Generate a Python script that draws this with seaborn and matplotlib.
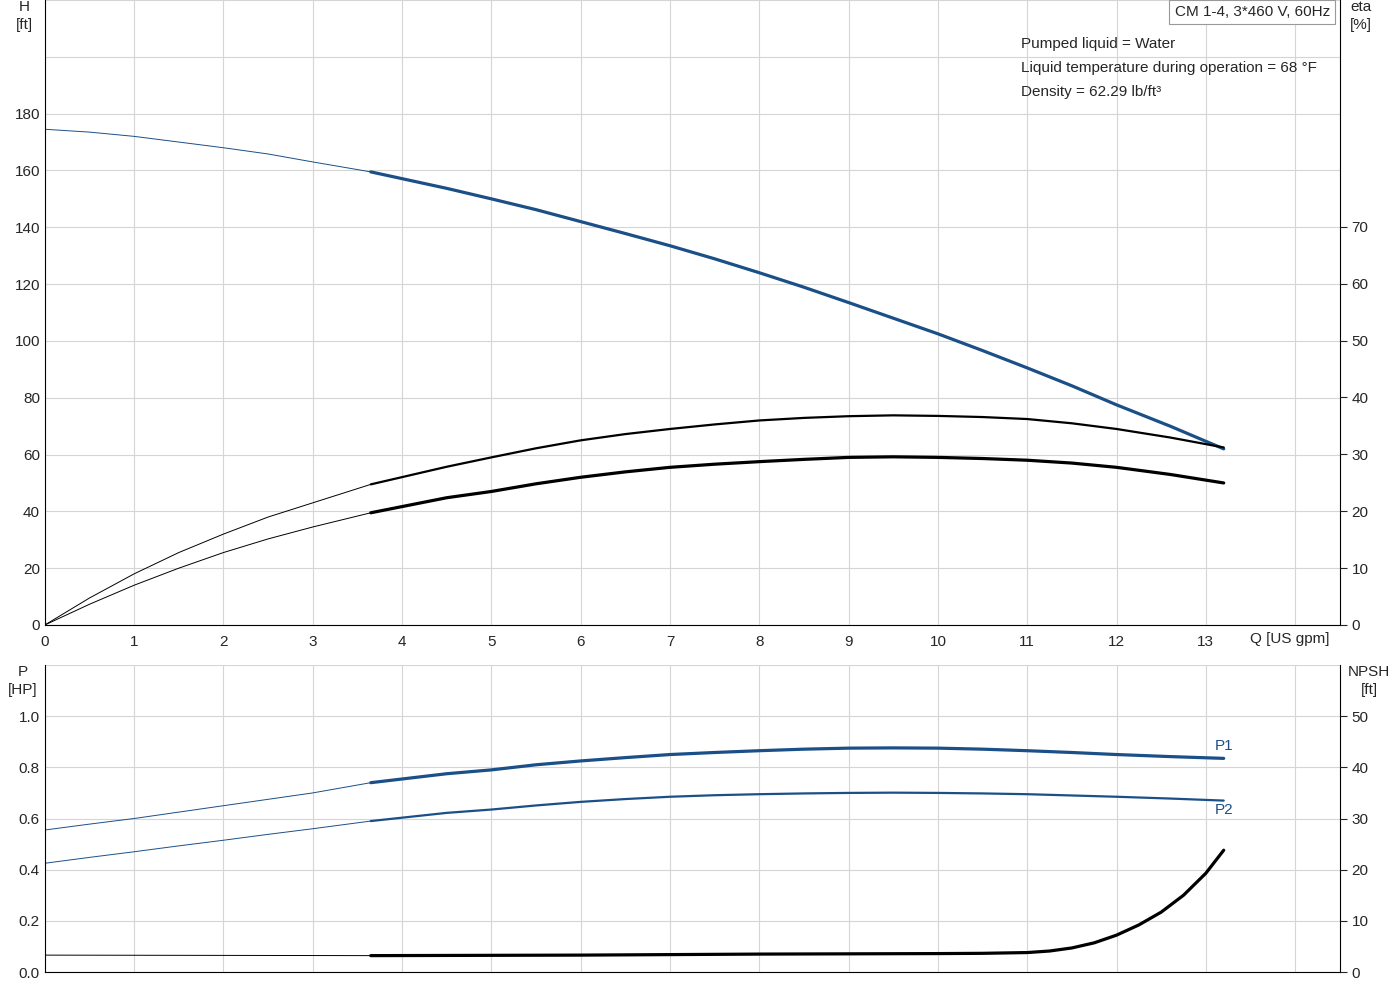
import matplotlib
matplotlib.use("Agg")
import matplotlib.pyplot as plt
import seaborn as sns
import pandas as pd
import numpy as np

sns.set_style("white")
plt.rcParams['font.family'] = ['Liberation Sans', 'DejaVu Sans']

q = [0, 0.5, 1, 1.5, 2, 2.5, 3, 3.65, 4.5, 5, 5.5, 6, 6.5, 7, 7.5, 8, 8.5, 9, 9.5, 10, 10.5, 11, 11.5, 12, 12.6, 13.2]
head = [174.5, 173.5, 172, 170, 168, 165.8, 163, 159.5, 153.7, 150, 146.2, 142, 137.8, 133.5, 128.9, 124, 118.9, 113.5, 108, 102.5, 96.6, 90.5, 84.2, 77.5, 70, 62]
eta1_h = [0, 9.5, 18, 25.5, 32, 38, 43, 49.5, 55.7, 59, 62.2, 65, 67.2, 69, 70.6, 72, 72.9, 73.5, 73.8, 73.6, 73.2, 72.5, 71, 69, 66, 62.5]
eta2_h = [0, 7.3, 14, 20, 25.5, 30.3, 34.5, 39.5, 44.8, 47, 49.7, 52, 53.9, 55.5, 56.6, 57.5, 58.3, 59, 59.2, 59, 58.6, 58, 57, 55.5, 53, 50]
p1 = [0.555, 0.578, 0.60, 0.625, 0.65, 0.675, 0.70, 0.74, 0.775, 0.79, 0.81, 0.825, 0.838, 0.85, 0.858, 0.865, 0.871, 0.875, 0.876, 0.875, 0.871, 0.865, 0.858, 0.85, 0.842, 0.835]
p2 = [0.425, 0.448, 0.47, 0.493, 0.515, 0.538, 0.56, 0.59, 0.622, 0.635, 0.651, 0.665, 0.676, 0.685, 0.691, 0.695, 0.698, 0.70, 0.701, 0.70, 0.698, 0.695, 0.69, 0.685, 0.678, 0.67]
q_npsh = [0, 3.65, 6, 8, 10, 10.5, 11, 11.25, 11.5, 11.75, 12, 12.25, 12.5, 12.75, 13, 13.2]
npsh = [3.3, 3.2, 3.3, 3.5, 3.6, 3.65, 3.8, 4.1, 4.7, 5.7, 7.2, 9.2, 11.7, 15, 19.3, 23.8]

blue = "#1b4f87"
cut = 3.65
fig = plt.figure(figsize=(14, 10), dpi=100)
ax = fig.add_axes([0.032, 0.375, 0.925, 0.625])
bx = fig.add_axes([0.032, 0.028, 0.925, 0.307])

def split(ax, x, y, color, lw):
    df = pd.DataFrame({"x": x, "y": y})
    a = df[df.x <= cut]; b = df[df.x >= cut]
    sns.lineplot(data=a, x="x", y="y", ax=ax, color=color, lw=0.7, sort=False)
    sns.lineplot(data=b, x="x", y="y", ax=ax, color=color, lw=lw, sort=False)

split(ax, q, head, blue, 2.3)
split(ax, q, eta1_h, "black", 1.6)
split(ax, q, eta2_h, "black", 2.3)
split(bx, q, p1, blue, 2.3)
split(bx, q, p2, blue, 1.6)
split(bx, q_npsh, [v / 50 for v in npsh], "black", 2.3)

for a, ylim in [(ax, (0, 219.7)), (bx, (0, 1.2))]:
    a.set_xlim(0, 14.5)
    a.set_ylim(*ylim)
    a.set_xlabel(""); a.set_ylabel("")
    a.set_xticks(range(0, 15))
    a.grid(True, color="#d5d5d5", lw=0.8)
    a.spines["top"].set_visible(False)
    for s in ["left", "right", "bottom"]:
        a.spines[s].set_color("black")
    a.tick_params(labelsize=11, length=4, direction="out", color="black")
ax.set_yticks(list(range(0, 221, 20)))
ax.set_yticklabels([str(v) if v <= 180 else "" for v in range(0, 221, 20)])
ax.set_xticklabels([str(i) if i <= 13 else "" for i in range(15)])
ax.tick_params(axis="y", length=0)
bx.set_xticklabels([])
bx.set_yticks(np.arange(0, 1.21, 0.2))
bx.set_yticklabels(["0.0", "0.2", "0.4", "0.6", "0.8", "1.0", ""])
bx.tick_params(axis="y", length=0)

r = ax.twinx(); r.set_ylim(0, 219.7 / 2)
r.set_yticks(range(0, 71, 10)); r.tick_params(labelsize=11, length=5)
for s in r.spines.values(): s.set_visible(False)
r2 = bx.twinx(); r2.set_ylim(0, 60)
r2.set_yticks(range(0, 51, 10)); r2.tick_params(labelsize=11, length=5)
for s in r2.spines.values(): s.set_visible(False)

fs = 11
fig.text(0.0175, 0.993, "H", ha="center", va="center", fontsize=fs)
fig.text(0.0175, 0.975, "[ft]", ha="center", va="center", fontsize=fs)
fig.text(0.972, 0.993, "eta", ha="center", va="center", fontsize=fs)
fig.text(0.972, 0.975, "[%]", ha="center", va="center", fontsize=fs)
fig.text(0.0165, 0.328, "P", ha="center", va="center", fontsize=fs)
fig.text(0.0165, 0.310, "[HP]", ha="center", va="center", fontsize=fs)
fig.text(0.978, 0.328, "NPSH", ha="center", va="center", fontsize=fs)
fig.text(0.978, 0.310, "[ft]", ha="center", va="center", fontsize=fs)
fig.text(0.893, 0.361, "Q [US gpm]", ha="left", va="center", fontsize=fs)
fig.text(0.8945, 0.988, "CM 1-4, 3*460 V, 60Hz", ha="center", va="center", fontsize=fs,
         bbox=dict(boxstyle="square,pad=0.35", fc="white", ec="#999999", lw=0.8))
for i, t in enumerate(["Pumped liquid = Water", "Liquid temperature during operation = 68 °F",
                       "Density = 62.29 lb/ft³"]):
    fig.text(0.729, 0.956 - i * 0.024, t, ha="left", va="center", fontsize=fs)
bx.text(13.2, 0.885, "P1", color=blue, fontsize=11, ha="center", va="center")
bx.text(13.2, 0.635, "P2", color=blue, fontsize=11, ha="center", va="center")
fig.savefig("out.png", dpi=100)
